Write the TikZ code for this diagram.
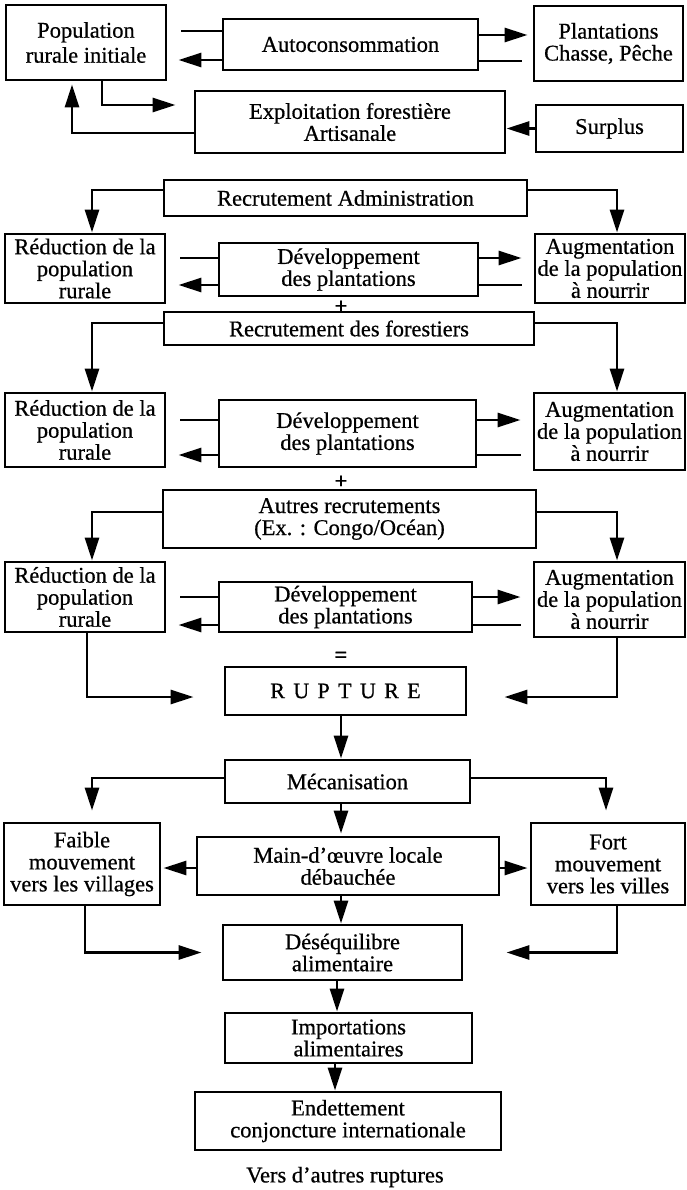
\documentclass[tikz,border=0pt]{standalone}
\usepackage{fontspec}
\setmainfont{Liberation Serif}[FakeBold=0.6]
\usetikzlibrary{arrows.meta,calc}

\begin{document}
\begin{tikzpicture}[x=1pt, y=1pt,
  font=\fontsize{22.5}{22}\selectfont,
  boxv/.style={draw=black, line width=2.9pt, inner sep=0pt, align=center},
  lbl/.style={inner sep=1pt},
  plainedge/.style={draw=black, line width=2.8pt},
  arrowedge/.style={draw=black, line width=2.8pt, -{Triangle[length=23pt, width=14pt]}}
]
\useasboundingbox (0,0) rectangle (686,-1190);

\node[boxv, minimum width=160pt, minimum height=75pt] (pop) at (86,-42.5) {Population\\[3pt]rurale initiale};
\node[boxv, minimum width=255pt, minimum height=51pt] (auto) at (350.5,-44.5) {Autoconsommation};
\node[boxv, minimum width=149pt, minimum height=75pt] (plant) at (608.5,-43.5) {Plantations\\Chasse, Pêche};
\node[boxv, minimum width=310pt, minimum height=62pt] (expl) at (350,-122) {Exploitation forestière\\Artisanale};
\node[boxv, minimum width=147pt, minimum height=47pt] (surplus) at (609.5,-128.5) {Surplus};
\node[boxv, minimum width=363pt, minimum height=36pt] (recadm) at (345.5,-198) {Recrutement Administration};
\node[boxv, minimum width=160pt, minimum height=69pt] (red1) at (85,-268.5) {Réduction de la\\population\\rurale};
\node[boxv, minimum width=259pt, minimum height=53pt] (dev1) at (348.5,-269.5) {Développement\\des plantations};
\node[boxv, minimum width=150pt, minimum height=69pt] (aug1) at (610,-268.5) {Augmentation\\de la population\\à nourrir};
\node[lbl] (plus1) at (341,-307) {\textbf{+}};
\node[boxv, minimum width=370pt, minimum height=33pt] (recfor) at (349,-328.5) {Recrutement des forestiers};
\node[boxv, minimum width=160pt, minimum height=74pt] (red2) at (85,-430) {Réduction de la\\population\\rurale};
\node[boxv, minimum width=257pt, minimum height=67pt] (dev2) at (347.5,-433.5) {Développement\\des plantations};
\node[boxv, minimum width=151pt, minimum height=77pt] (aug2) at (609.5,-431.5) {Augmentation\\de la population\\à nourrir};
\node[lbl] (plus2) at (341,-482) {\textbf{+}};
\node[boxv, minimum width=373pt, minimum height=58pt] (autres) at (349.5,-519) {Autres recrutements\\(Ex. : Congo/Océan)};
\node[boxv, minimum width=160pt, minimum height=70pt] (red3) at (85,-597) {Réduction de la\\population\\rurale};
\node[boxv, minimum width=253pt, minimum height=50pt] (dev3) at (345.5,-607) {Développement\\des plantations};
\node[boxv, minimum width=151pt, minimum height=75pt] (aug3) at (609.5,-599.5) {Augmentation\\de la population\\à nourrir};
\node[lbl] (eq) at (341,-657) {\textbf{=}};
\node[boxv, minimum width=241pt, minimum height=48pt] (rupt) at (345.5,-691) {\fontsize{22}{22}\selectfont\addfontfeature{LetterSpace=38}RUPTURE};
\node[boxv, minimum width=245pt, minimum height=43pt] (meca) at (347.5,-781.5) {Mécanisation};
\node[boxv, minimum width=156pt, minimum height=82pt] (faible) at (82,-864) {Faible\\mouvement\\vers les villages};
\node[boxv, minimum width=302pt, minimum height=58pt] (main) at (348,-866) {Main-d'œuvre locale\\débauchée};
\node[boxv, minimum width=154pt, minimum height=82pt] (fort) at (608,-864) {Fort\\mouvement\\vers les villes};
\node[boxv, minimum width=239pt, minimum height=55pt] (deseq) at (342.5,-952.5) {Déséquilibre\\alimentaire};
\node[boxv, minimum width=247pt, minimum height=50pt] (import) at (348.5,-1038) {Importations\\alimentaires};
\node[boxv, minimum width=306pt, minimum height=58pt] (endet) at (348,-1121) {Endettement\\conjoncture internationale};
\node[lbl] (vers) at (345,-1177) {Vers d'autres ruptures};

% premier niveau
\draw[plainedge, shorten <=14pt] ([yshift=13.5pt]auto.west -| pop.east) -- ([yshift=13.5pt]auto.west);
\draw[arrowedge, shorten >=11pt] ([yshift=-15.5pt]auto.west) -- ([yshift=-15.5pt]auto.west -| pop.east);
\draw[arrowedge, shorten >=5pt] ([yshift=9.5pt]auto.east) -- ([yshift=9.5pt]auto.east -| plant.west);
\draw[plainedge, shorten <=11pt] ([yshift=-16.5pt]auto.east -| plant.west) -- ([yshift=-16.5pt]auto.east);
\draw[arrowedge, shorten >=18pt] ([xshift=16pt]pop.south) |- ([yshift=17pt]expl.west);
\draw[arrowedge, shorten >=3pt] ([yshift=-11pt]expl.west) -| ([xshift=-14pt]pop.south);
\draw[arrowedge] (surplus.west) -- (surplus.west -| expl.east);

% recrutements
\draw[arrowedge] ([yshift=8pt]recadm.west) -| ([xshift=7pt]red1.north);
\draw[arrowedge] ([yshift=8pt]recadm.east) -| ([xshift=7pt]aug1.north);
\draw[plainedge, shorten <=14pt] ([yshift=11.5pt]dev1.west -| red1.east) -- ([yshift=11.5pt]dev1.west);
\draw[arrowedge, shorten >=12pt] ([yshift=-15.5pt]dev1.west) -- ([yshift=-15.5pt]dev1.west -| red1.east);
\draw[arrowedge, shorten >=12pt] ([yshift=11.5pt]dev1.east) -- ([yshift=11.5pt]dev1.east -| aug1.west);
\draw[plainedge, shorten <=12pt] ([yshift=-15.5pt]dev1.east -| aug1.west) -- ([yshift=-15.5pt]dev1.east);

\draw[arrowedge] ([yshift=5.5pt]recfor.west) -| ([xshift=7pt]red2.north);
\draw[arrowedge] ([yshift=5.5pt]recfor.east) -| ([xshift=7.5pt]aug2.north);
\draw[plainedge, shorten <=14pt] ([yshift=13.5pt]dev2.west -| red2.east) -- ([yshift=13.5pt]dev2.west);
\draw[arrowedge, shorten >=12pt] ([yshift=-21.5pt]dev2.west) -- ([yshift=-21.5pt]dev2.west -| red2.east);
\draw[arrowedge, shorten >=12pt] ([yshift=13.5pt]dev2.east) -- ([yshift=13.5pt]dev2.east -| aug2.west);
\draw[plainedge, shorten <=12pt] ([yshift=-21.5pt]dev2.east -| aug2.west) -- ([yshift=-21.5pt]dev2.east);

\draw[arrowedge] ([yshift=7pt]autres.west) -| ([xshift=7pt]red3.north);
\draw[arrowedge] ([yshift=7pt]autres.east) -| ([xshift=7.5pt]aug3.north);
\draw[plainedge, shorten <=14pt] ([yshift=10pt]dev3.west -| red3.east) -- ([yshift=10pt]dev3.west);
\draw[arrowedge, shorten >=12pt] ([yshift=-18pt]dev3.west) -- ([yshift=-18pt]dev3.west -| red3.east);
\draw[arrowedge, shorten >=12pt] ([yshift=10pt]dev3.east) -- ([yshift=10pt]dev3.east -| aug3.west);
\draw[plainedge, shorten <=12pt] ([yshift=-18pt]dev3.east -| aug3.west) -- ([yshift=-18pt]dev3.east);

% rupture et suites
\draw[arrowedge, shorten >=30pt] ([xshift=2pt]red3.south) |- ([yshift=-6pt]rupt.west);
\draw[arrowedge, shorten >=37pt] ([xshift=7.5pt]aug3.south) |- ([yshift=-6pt]rupt.east);
\draw[arrowedge] ([xshift=-4.5pt]rupt.south) -- ([xshift=-4.5pt]rupt.south |- meca.north);
\draw[arrowedge, shorten >=11pt] ([yshift=3.5pt]meca.west) -| ([xshift=10pt]faible.north);
\draw[arrowedge, shorten >=11pt] ([yshift=3.5pt]meca.east) -| ([xshift=-2pt]fort.north);
\draw[arrowedge, shorten >=2pt] ([xshift=-6.5pt]meca.south) -- ([xshift=-6.5pt]meca.south |- main.north);
\draw[arrowedge, shorten >=2pt] ([yshift=-2pt]main.west) -- ([yshift=-2pt]main.west -| faible.east);
\draw[arrowedge, shorten >=2pt] ([yshift=-2pt]main.east) -- ([yshift=-2pt]main.east -| fort.west);
\draw[arrowedge] ([xshift=-7pt]main.south) -- ([xshift=-7pt]main.south |- deseq.north);
\draw[arrowedge, shorten >=20pt] ([xshift=3pt]faible.south) |- (deseq.west);
\draw[arrowedge, shorten >=43pt] ([xshift=9pt]fort.south) |- (deseq.east);
\draw[arrowedge] ([xshift=-5.5pt]deseq.south) -- ([xshift=-5.5pt]deseq.south |- import.north);
\draw[arrowedge] ([xshift=-13.5pt]import.south) -- ([xshift=-13.5pt]import.south |- endet.north);

\end{tikzpicture}
\end{document}
